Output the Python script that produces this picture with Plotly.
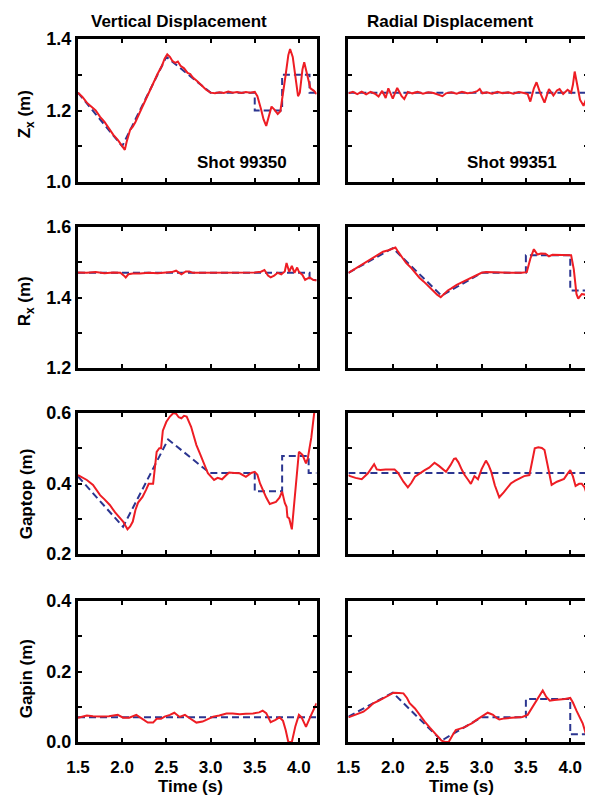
import plotly.graph_objects as go

# ---------------- data ----------------
# Row 1: Z_x (m)
zx_vert_t = [1.50, 1.55, 1.60, 1.65, 1.70, 1.75, 1.80, 1.85, 1.90, 1.95, 2.00, 2.03, 2.05, 2.09, 2.12,
             2.15, 2.20, 2.25, 2.30, 2.35, 2.40, 2.45, 2.48, 2.51, 2.54, 2.57, 2.60, 2.63, 2.66, 2.70,
             2.74, 2.77, 2.80, 2.85, 2.90, 2.95, 3.00, 3.05, 3.10, 3.15, 3.20, 3.25, 3.30, 3.35, 3.40,
             3.45, 3.50, 3.53, 3.57, 3.60, 3.63, 3.66, 3.69, 3.72, 3.76, 3.79, 3.82, 3.85, 3.88, 3.90,
             3.93, 3.96, 3.99, 4.01, 4.04, 4.06, 4.09, 4.13, 4.17, 4.20]
zx_vert_meas = [1.250, 1.238, 1.222, 1.210, 1.200, 1.182, 1.168, 1.150, 1.132, 1.118, 1.102, 1.090, 1.112, 1.146, 1.155,
                1.168, 1.195, 1.222, 1.250, 1.276, 1.302, 1.325, 1.345, 1.357, 1.350, 1.338, 1.333, 1.337, 1.325, 1.318,
                1.305, 1.302, 1.292, 1.282, 1.270, 1.258, 1.250, 1.248, 1.251, 1.249, 1.253, 1.250, 1.252, 1.249, 1.252,
                1.250, 1.252, 1.240, 1.205, 1.175, 1.157, 1.185, 1.211, 1.203, 1.190, 1.198, 1.245, 1.300, 1.355, 1.372,
                1.350, 1.300, 1.240, 1.250, 1.315, 1.335, 1.300, 1.262, 1.255, 1.246]
zx_vert_ref_t = [1.5, 2.0, 2.5, 3.0, 3.5, 3.5, 3.81, 3.81, 4.12, 4.12, 4.2]
zx_vert_ref = [1.25, 1.10, 1.35, 1.25, 1.25, 1.20, 1.20, 1.30, 1.30, 1.25, 1.25]

zx_rad_t = [1.50, 1.55, 1.60, 1.65, 1.70, 1.75, 1.80, 1.84, 1.88, 1.92, 1.95, 2.00, 2.05, 2.10, 2.13,
            2.17, 2.22, 2.28, 2.34, 2.40, 2.46, 2.52, 2.56, 2.60, 2.66, 2.72, 2.78, 2.84, 2.90, 2.95,
            2.98, 3.01, 3.06, 3.12, 3.18, 3.24, 3.30, 3.36, 3.42, 3.48, 3.52, 3.55, 3.59, 3.62, 3.66,
            3.71, 3.76, 3.81, 3.85, 3.88, 3.92, 3.97, 4.01, 4.03, 4.05, 4.08, 4.11, 4.15, 4.18, 4.20]
zx_rad_meas = [1.248, 1.252, 1.246, 1.253, 1.245, 1.252, 1.247, 1.239, 1.255, 1.235, 1.262, 1.233, 1.263, 1.240, 1.232,
               1.252, 1.248, 1.252, 1.247, 1.251, 1.249, 1.243, 1.240, 1.248, 1.251, 1.247, 1.252, 1.248, 1.250, 1.254,
               1.260, 1.248, 1.251, 1.247, 1.252, 1.248, 1.251, 1.247, 1.252, 1.249, 1.246, 1.225, 1.262, 1.279, 1.250,
               1.222, 1.260, 1.242, 1.256, 1.260, 1.246, 1.258, 1.250, 1.272, 1.309, 1.270, 1.230, 1.213, 1.230, 1.246]
zx_rad_ref_t = [1.5, 4.2]
zx_rad_ref = [1.25, 1.25]

# Row 2: R_x (m)
rx_vert_t = [1.50, 1.60, 1.70, 1.80, 1.90, 1.98, 2.02, 2.04, 2.07, 2.12, 2.20, 2.30, 2.40, 2.50, 2.56,
             2.61, 2.67, 2.72, 2.76, 2.80, 2.90, 3.00, 3.10, 3.20, 3.30, 3.40, 3.50, 3.57, 3.61, 3.65,
             3.68, 3.72, 3.76, 3.80, 3.84, 3.86, 3.89, 3.92, 3.95, 3.98, 4.00, 4.04, 4.07, 4.12, 4.16, 4.20]
rx_vert_meas = [1.471, 1.470, 1.472, 1.469, 1.471, 1.470, 1.462, 1.457, 1.466, 1.468, 1.468, 1.470, 1.469, 1.471, 1.472,
                1.476, 1.466, 1.474, 1.474, 1.470, 1.470, 1.469, 1.471, 1.470, 1.470, 1.471, 1.471, 1.473, 1.478, 1.462,
                1.457, 1.462, 1.470, 1.466, 1.474, 1.498, 1.473, 1.490, 1.470, 1.485, 1.473, 1.464, 1.450, 1.457, 1.450, 1.448]
rx_vert_ref_t = [1.5, 4.12, 4.12, 4.2]
rx_vert_ref = [1.47, 1.47, 1.45, 1.45]

rx_rad_t = [1.50, 1.52, 1.60, 1.70, 1.80, 1.89, 1.95, 2.00, 2.03, 2.06, 2.10, 2.15, 2.20, 2.25, 2.30,
            2.35, 2.40, 2.45, 2.50, 2.54, 2.58, 2.62, 2.66, 2.72, 2.80, 2.88, 2.95, 3.00, 3.05, 3.15,
            3.25, 3.35, 3.45, 3.51, 3.55, 3.59, 3.63, 3.67, 3.72, 3.76, 3.80, 3.88, 3.95, 4.01, 4.04,
            4.07, 4.09, 4.13, 4.17, 4.20]
rx_rad_meas = [1.470, 1.473, 1.485, 1.500, 1.514, 1.530, 1.534, 1.540, 1.542, 1.530, 1.515, 1.498, 1.486, 1.470, 1.456,
               1.445, 1.432, 1.420, 1.408, 1.401, 1.410, 1.420, 1.426, 1.436, 1.446, 1.456, 1.466, 1.470, 1.472, 1.471,
               1.469, 1.470, 1.470, 1.472, 1.510, 1.537, 1.522, 1.525, 1.524, 1.517, 1.521, 1.520, 1.521, 1.520, 1.480,
               1.410, 1.397, 1.410, 1.408, 1.405]
rx_rad_ref_t = [1.5, 2.0, 2.55, 3.0, 3.5, 3.5, 4.0, 4.0, 4.2]
rx_rad_ref = [1.47, 1.54, 1.405, 1.47, 1.47, 1.52, 1.52, 1.42, 1.42]

# Row 3: Gaptop (m)
gt_vert_t = [1.50, 1.55, 1.60, 1.67, 1.75, 1.80, 1.86, 1.92, 1.97, 2.01, 2.06, 2.09, 2.12, 2.15, 2.18,
             2.23, 2.27, 2.30, 2.35, 2.37, 2.39, 2.42, 2.44, 2.46, 2.50, 2.54, 2.58, 2.61, 2.64, 2.67,
             2.70, 2.73, 2.78, 2.81, 2.84, 2.88, 2.91, 2.94, 2.97, 3.01, 3.04, 3.08, 3.13, 3.17, 3.21,
             3.27, 3.33, 3.40, 3.46, 3.50, 3.53, 3.56, 3.59, 3.63, 3.67, 3.71, 3.74, 3.78, 3.81, 3.84,
             3.86, 3.87, 3.89, 3.92, 3.95, 3.98, 4.00, 4.04, 4.08, 4.10, 4.14, 4.17, 4.20]
gt_vert_meas = [0.424, 0.418, 0.410, 0.396, 0.367, 0.355, 0.339, 0.318, 0.303, 0.292, 0.270, 0.278, 0.292, 0.325, 0.346,
                0.362, 0.382, 0.399, 0.399, 0.450, 0.490, 0.500, 0.500, 0.550, 0.575, 0.590, 0.600, 0.598, 0.588, 0.585,
                0.592, 0.590, 0.561, 0.535, 0.509, 0.485, 0.467, 0.448, 0.429, 0.418, 0.410, 0.416, 0.412, 0.422, 0.431,
                0.430, 0.429, 0.419, 0.430, 0.433, 0.425, 0.400, 0.382, 0.360, 0.342, 0.345, 0.348, 0.360, 0.377, 0.345,
                0.334, 0.305, 0.301, 0.270, 0.353, 0.450, 0.490, 0.481, 0.457, 0.471, 0.530, 0.594, 0.650]
gt_vert_ref_t = [1.5, 2.01, 2.52, 2.99, 3.5, 3.5, 3.81, 3.81, 4.11, 4.11, 4.2]
gt_vert_ref = [0.42, 0.277, 0.525, 0.43, 0.43, 0.378, 0.378, 0.478, 0.478, 0.43, 0.43]

gt_rad_t = [1.50, 1.52, 1.58, 1.65, 1.72, 1.76, 1.79, 1.82, 1.86, 1.92, 1.97, 2.02, 2.06, 2.12, 2.17,
            2.21, 2.25, 2.30, 2.36, 2.41, 2.47, 2.52, 2.56, 2.60, 2.65, 2.69, 2.71, 2.74, 2.78, 2.81,
            2.85, 2.88, 2.92, 2.96, 3.00, 3.05, 3.08, 3.11, 3.15, 3.20, 3.25, 3.30, 3.33, 3.38, 3.43,
            3.48, 3.54, 3.57, 3.60, 3.64, 3.68, 3.71, 3.75, 3.79, 3.85, 3.93, 3.97, 4.00, 4.03, 4.06,
            4.10, 4.13, 4.16, 4.18, 4.20]
gt_rad_meas = [0.424, 0.421, 0.416, 0.412, 0.429, 0.445, 0.455, 0.440, 0.438, 0.440, 0.439, 0.440, 0.430, 0.405, 0.389,
               0.402, 0.419, 0.428, 0.438, 0.445, 0.459, 0.450, 0.440, 0.433, 0.452, 0.470, 0.471, 0.460, 0.438, 0.424,
               0.410, 0.399, 0.421, 0.412, 0.440, 0.465, 0.452, 0.433, 0.395, 0.361, 0.375, 0.390, 0.400, 0.408, 0.415,
               0.421, 0.424, 0.460, 0.500, 0.503, 0.501, 0.495, 0.440, 0.396, 0.405, 0.413, 0.428, 0.438, 0.420, 0.393,
               0.399, 0.399, 0.390, 0.374, 0.393]
gt_rad_ref_t = [1.5, 4.2]
gt_rad_ref = [0.43, 0.43]

# Row 4: Gapin (m)
gi_vert_t = [1.50, 1.56, 1.60, 1.67, 1.75, 1.85, 1.95, 2.01, 2.08, 2.16, 2.22, 2.29, 2.35, 2.39, 2.44,
             2.48, 2.54, 2.59, 2.65, 2.71, 2.76, 2.84, 2.91, 2.97, 3.03, 3.10, 3.18, 3.25, 3.33, 3.40,
             3.48, 3.55, 3.59, 3.63, 3.68, 3.73, 3.78, 3.82, 3.85, 3.88, 3.92, 3.96, 4.00, 4.03, 4.08,
             4.13, 4.17, 4.20]
gi_vert_meas = [0.069, 0.072, 0.075, 0.073, 0.072, 0.073, 0.077, 0.069, 0.069, 0.077, 0.067, 0.055, 0.055, 0.066, 0.066,
                0.072, 0.077, 0.083, 0.071, 0.077, 0.068, 0.055, 0.058, 0.065, 0.072, 0.075, 0.081, 0.081, 0.079, 0.080,
                0.081, 0.084, 0.089, 0.082, 0.056, 0.062, 0.070, 0.060, 0.034, 0.000, 0.000, 0.045, 0.077, 0.070, 0.043,
                0.072, 0.095, 0.110]
gi_vert_ref_t = [1.5, 4.2]
gi_vert_ref = [0.07, 0.07]

gi_rad_t = [1.50, 1.52, 1.60, 1.67, 1.73, 1.78, 1.84, 1.89, 1.95, 2.01, 2.07, 2.12, 2.16, 2.19, 2.25,
            2.30, 2.36, 2.42, 2.47, 2.51, 2.55, 2.59, 2.63, 2.67, 2.71, 2.76, 2.81, 2.85, 2.89, 2.94,
            3.00, 3.04, 3.07, 3.10, 3.13, 3.17, 3.20, 3.26, 3.33, 3.40, 3.46, 3.52, 3.58, 3.64, 3.69,
            3.73, 3.77, 3.82, 3.88, 3.94, 4.00, 4.03, 4.07, 4.11, 4.14, 4.17, 4.20]
gi_rad_meas = [0.070, 0.072, 0.079, 0.086, 0.098, 0.110, 0.117, 0.124, 0.132, 0.140, 0.139, 0.138, 0.125, 0.110, 0.095,
               0.077, 0.058, 0.040, 0.025, 0.013, 0.004, 0.000, 0.000, 0.018, 0.034, 0.038, 0.042, 0.048, 0.053, 0.062,
               0.072, 0.080, 0.083, 0.080, 0.077, 0.068, 0.064, 0.067, 0.069, 0.070, 0.071, 0.077, 0.100, 0.125, 0.146,
               0.128, 0.117, 0.119, 0.120, 0.122, 0.125, 0.112, 0.089, 0.070, 0.053, 0.028, 0.000]
gi_rad_ref_t = [1.5, 2.0, 2.55, 3.0, 3.5, 3.5, 4.0, 4.0, 4.2]
gi_rad_ref = [0.072, 0.14, 0.004, 0.07, 0.07, 0.122, 0.122, 0.022, 0.022]

column_titles = ["Vertical Displacement", "Radial Displacement"]
shot_labels = ["Shot 99350", "Shot 99351"]
row_titles = ["Z<sub>x</sub> (m)", "R<sub>x</sub> (m)", "Gaptop (m)", "Gapin (m)"]
x_title = "Time (s)"
x_tickvals = [1.5, 2.0, 2.5, 3.0, 3.5, 4.0]
x_ticktext = ["1.5", "2.0", "2.5", "3.0", "3.5", "4.0"]
x_range = [1.5, 4.2]
y_tickvals = [[1.0, 1.2, 1.4], [1.2, 1.4, 1.6], [0.2, 0.4, 0.6], [0.0, 0.2, 0.4]]
y_ticktext = [["1.0", "1.2", "1.4"], ["1.2", "1.4", "1.6"], ["0.2", "0.4", "0.6"], ["0.0", "0.2", "0.4"]]
y_minorvals = [[1.1, 1.3], [1.3, 1.5], [0.3, 0.5], [0.1, 0.3]]
y_ranges = [[1.0, 1.4], [1.2, 1.6], [0.2, 0.6], [0.0, 0.4]]

panels = [
    [(zx_vert_t, zx_vert_meas, zx_vert_ref_t, zx_vert_ref), (zx_rad_t, zx_rad_meas, zx_rad_ref_t, zx_rad_ref)],
    [(rx_vert_t, rx_vert_meas, rx_vert_ref_t, rx_vert_ref), (rx_rad_t, rx_rad_meas, rx_rad_ref_t, rx_rad_ref)],
    [(gt_vert_t, gt_vert_meas, gt_vert_ref_t, gt_vert_ref), (gt_rad_t, gt_rad_meas, gt_rad_ref_t, gt_rad_ref)],
    [(gi_vert_t, gi_vert_meas, gi_vert_ref_t, gi_vert_ref), (gi_rad_t, gi_rad_meas, gi_rad_ref_t, gi_rad_ref)],
]

# ---------------- layout geometry ----------------
# The page body has an 8px margin, so the figure is drawn 8px smaller and
# all target screen positions are shifted by that offset.
OFF = 8
W, H = 593 - OFF, 798 - OFF
ML, MR, MT, MB = 78 - OFF, 2, 39 - OFF, 798 - 742
PW, PH = W - ML - MR, H - MT - MB


def xp(px):
    return (px - OFF - ML) / PW


def yp(py):
    return (H - MB - (py - OFF)) / PH


col_dom = [[max(0, xp(78)), xp(318)], [xp(350), min(1, xp(591))]]
row_px = [(39, 182), (227, 368), (413, 554), (601, 742)]
row_dom = [[max(0, yp(b)), min(1, yp(t))] for (t, b) in row_px]

FONT = "Liberation Sans, Arial, Helvetica, sans-serif"
RED = "#ee1d24"
BLUE = "#2b3590"

fig = go.Figure()
layout = dict(
    width=W, height=H,
    margin=dict(l=ML, r=MR, t=MT, b=MB),
    paper_bgcolor="white", plot_bgcolor="white",
    showlegend=False,
    font=dict(family=FONT, color="black"),
)

k = 0
for r in range(4):
    for c in range(2):
        k += 1
        sfx = "" if k == 1 else str(k)
        t, m, rt, rv = panels[r][c]
        fig.add_trace(go.Scatter(x=rt, y=rv, mode="lines", xaxis="x" + sfx, yaxis="y" + sfx,
                                 line=dict(color=BLUE, width=2, dash="7px,4px"), hoverinfo="skip"))
        fig.add_trace(go.Scatter(x=t, y=m, mode="lines", xaxis="x" + sfx, yaxis="y" + sfx,
                                 line=dict(color=RED, width=2), hoverinfo="skip"))
        common = dict(showline=True, linewidth=3, linecolor="black", mirror="ticks",
                      ticks="inside", ticklen=4, tickwidth=1.5, tickcolor="black",
                      showgrid=False, zeroline=False)
        layout["xaxis" + sfx] = dict(
            common, domain=col_dom[c], anchor="y" + sfx, range=x_range,
            tickmode="array", tickvals=x_tickvals, ticktext=x_ticktext,
            showticklabels=(r == 3), ticklabelstandoff=8,
            tickfont=dict(family=FONT, size=17, weight="bold", color="black"))
        layout["yaxis" + sfx] = dict(
            common, domain=row_dom[r], anchor="x" + sfx, range=y_ranges[r],
            tickmode="array", tickvals=y_tickvals[r], ticktext=y_ticktext[r],
            minor=dict(tickmode="array", tickvals=y_minorvals[r], ticks="inside",
                       ticklen=4, tickwidth=1.5, tickcolor="black", showgrid=False),
            showticklabels=(c == 0),
            tickfont=dict(family=FONT, size=18, weight="bold", color="black"))

ann = []
for cx, label in zip([180, 453], column_titles):
    ann.append(dict(text=label, x=xp(cx), y=yp(21), xref="paper", yref="paper",
                    xanchor="center", yanchor="middle", showarrow=False,
                    font=dict(family=FONT, size=17, weight="bold", color="black")))
for cx, label in zip([243, 515], shot_labels):
    ann.append(dict(text=label, x=xp(cx), y=yp(162), xref="paper", yref="paper",
                    xanchor="center", yanchor="middle", showarrow=False,
                    font=dict(family=FONT, size=17, weight="bold", color="black")))
for cy, label in zip([114, 301, 494, 679], row_titles):
    ann.append(dict(text=label, x=xp(26), y=yp(cy), xref="paper", yref="paper",
                    xanchor="center", yanchor="middle", showarrow=False, textangle=-90,
                    font=dict(family=FONT, size=17, weight="bold", color="black")))
for cx in [191, 464]:
    ann.append(dict(text=x_title, x=xp(cx), y=yp(786), xref="paper", yref="paper",
                    xanchor="center", yanchor="middle", showarrow=False,
                    font=dict(family=FONT, size=17, weight="bold", color="black")))
layout["annotations"] = ann

fig.update_layout(**layout)
fig.write_html("out.html")
